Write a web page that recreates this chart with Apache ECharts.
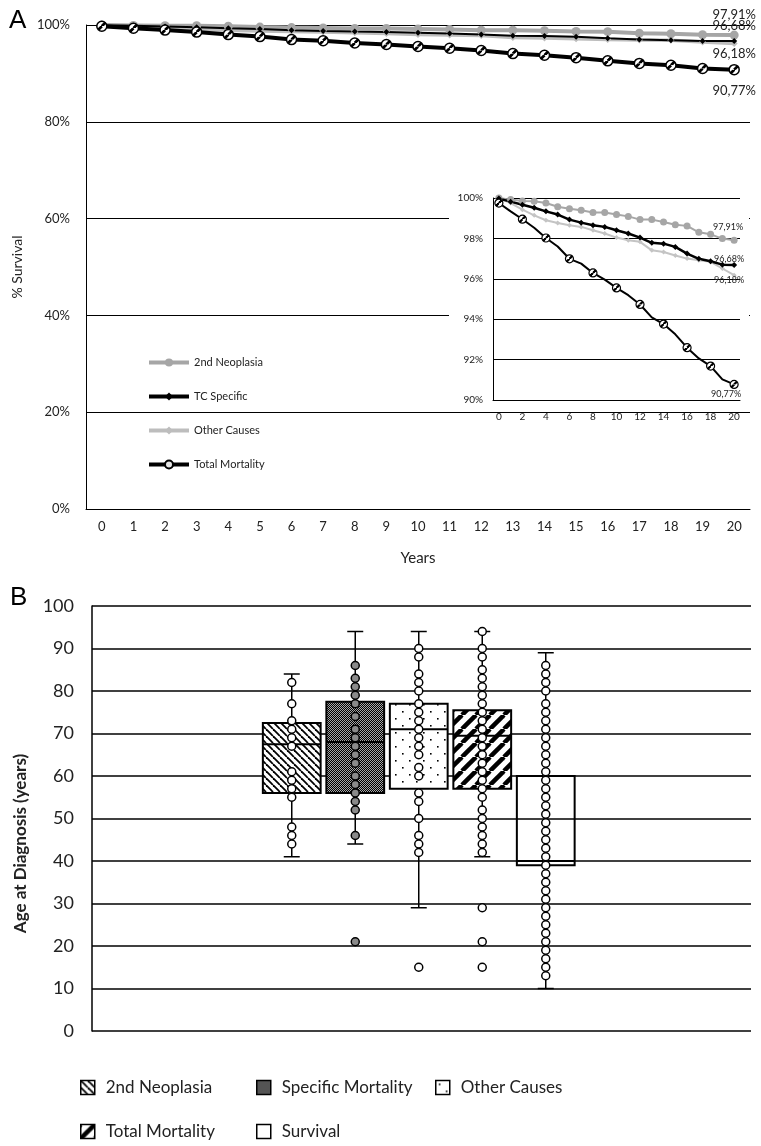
<!DOCTYPE html>
<html>
<head>
<meta charset="utf-8">
<script src="https://cdn.jsdelivr.net/npm/echarts@6/dist/echarts.min.js"></script>
<style>
body{margin:0;background:#fff;}
#chartA{position:absolute;left:0;top:0;width:761px;height:575px;}
#chartB{position:absolute;left:0;top:575px;width:761px;height:571px;}
</style>
</head>
<body>
<div id="chartA"></div>
<div id="chartB"></div>
<script>
// panel A : survival curves
var years = ['0','1','2','3','4','5','6','7','8','9','10','11','12','13','14','15','16','17','18','19','20'];
var neoplasia2nd = [100, 99.92, 99.85, 99.84, 99.75, 99.57, 99.47, 99.39, 99.28, 99.28, 99.18, 99.09, 98.93, 98.93, 98.81, 98.68, 98.62, 98.30, 98.20, 97.99, 97.91];
var tcSpecific = [99.97, 99.82, 99.67, 99.52, 99.34, 99.18, 98.93, 98.78, 98.65, 98.57, 98.40, 98.24, 98.04, 97.78, 97.74, 97.58, 97.25, 96.99, 96.87, 96.70, 96.68];
var otherCauses = [100, 99.75, 99.42, 99.14, 98.90, 98.76, 98.65, 98.57, 98.40, 98.24, 98.04, 97.91, 97.83, 97.41, 97.33, 97.15, 97.00, 96.92, 96.84, 96.51, 96.18];
var totalMortality = [99.75, 99.34, 98.95, 98.53, 98.02, 97.60, 96.99, 96.75, 96.29, 95.96, 95.55, 95.19, 94.73, 94.09, 93.76, 93.25, 92.59, 92.06, 91.68, 91.02, 90.77];

// panel B : age at diagnosis
var groups = ['2nd Neoplasia', 'Specific Mortality', 'Other Causes', 'Total Mortality', 'Survival'];
var boxMin = [41, 44, 29, 41, 10];
var boxQ1 = [56, 56, 57, 57, 39];
var boxMedian = [67.5, 68, 71, 69.5, 40];
var boxQ3 = [72.5, 77.5, 77, 75.5, 60];
var boxMax = [84, 94, 94, 94, 89];
var agesNeoplasia = [82, 77, 73, 71, 69, 67, 61, 59, 57, 55, 48, 46, 44];
var agesSpecific = [86, 83, 81, 79, 77, 74, 71, 69, 67, 65, 63, 60, 58, 56, 54, 52, 46, 21];
var agesOther = [90, 88, 84, 82, 80, 77, 75, 73, 71, 69, 67, 65, 62, 60, 56, 54, 50, 46, 44, 42, 15];
var agesTotal = [94, 90, 88, 85, 83, 81, 79, 77, 75, 73, 71, 69, 67, 65, 63, 61, 59, 57, 55, 52, 50, 48, 46, 44, 42, 29, 21, 15];
var agesSurvival = [86, 84, 82, 80, 77, 75, 73, 71, 69, 67, 65, 63, 61, 59, 57, 55, 53, 51, 49, 47, 45, 43, 41, 39, 37, 35, 33, 31, 29, 27, 25, 23, 21, 19, 17, 15, 13];

var FONT = 'Lato';
var TXT = '#222';

function makePattern(size, draw, scale){
	var c = document.createElement('canvas');
	c.width = size; c.height = size;
	var ctx = c.getContext('2d');
	draw(ctx, size);
	var p = {image: c, repeat: 'repeat'};
	if(scale){ p.scaleX = scale; p.scaleY = scale; }
	return p;
}

// "/" stripes, one through the origin of the tile
function slashes(width, bg){
	return function(ctx, s){
		ctx.fillStyle = bg; ctx.fillRect(0, 0, s, s);
		ctx.strokeStyle = '#000'; ctx.lineWidth = width;
		for(var k = 0; k < 3; k++){
			ctx.beginPath(); ctx.moveTo(k*s - s, s); ctx.lineTo(k*s, 0); ctx.stroke();
		}
	};
}
function backslashes(width){
	return function(ctx, s){
		ctx.fillStyle = '#fff'; ctx.fillRect(0, 0, s, s);
		ctx.strokeStyle = '#000'; ctx.lineWidth = width;
		for(var k = -1; k < 2; k++){
			ctx.beginPath(); ctx.moveTo(k*s, 0); ctx.lineTo(k*s + s, s); ctx.stroke();
		}
	};
}

// symbols are drawn in a -1..1 box, so a 20px tile scaled by 0.1 spans one diameter
var slashDot = makePattern(20, slashes(5.5, '#fff'), 0.1);

var hatchFill = makePattern(7, backslashes(1.8));
var checkFill = makePattern(2, function(ctx){
	ctx.fillStyle = '#a8a8a8'; ctx.fillRect(0, 0, 2, 2);
	ctx.fillStyle = '#000'; ctx.fillRect(0, 0, 1, 1); ctx.fillRect(1, 1, 1, 1);
});
var dotFill = makePattern(14, function(ctx){
	ctx.fillStyle = '#fff'; ctx.fillRect(0, 0, 14, 14);
	ctx.fillStyle = '#000'; ctx.fillRect(3, 3, 1.6, 1.6); ctx.fillRect(10, 10, 1.6, 1.6);
});
var stripeFill = makePattern(14, slashes(4.5, '#fff'));
var boxFills = [hatchFill, checkFill, dotFill, stripeFill, 'rgba(0,0,0,0)'];

function pct(v){ return v.toFixed(2).replace('.', ',') + '%'; }

function endLabel(values, offset, size){
	return values.map(function(v, i){
		if(i < values.length - 1) return v;
		return {value: v, label: {show: true, position: 'inside', offset: offset,
			formatter: function(p){ return pct(p.value); },
			fontSize: size, color: TXT, fontFamily: FONT}};
	});
}

var chartA = echarts.init(document.getElementById('chartA'));
chartA.setOption({
	animation: false,
	title: {text: 'A', left: 4, top: 3, textStyle: {fontFamily: 'Liberation Sans', fontWeight: 'normal', fontSize: 26, color: '#000'}},
	legend: {
		orient: 'vertical', left: 147, top: 357, padding: 0, itemWidth: 40, itemHeight: 10, itemGap: 23,
		textStyle: {fontFamily: FONT, fontSize: 11, color: TXT},
		selectedMode: false,
		data: [
			{name: '2nd Neoplasia', lineStyle: {width: 4}},
			{name: 'TC Specific', lineStyle: {width: 4}},
			{name: 'Other Causes', lineStyle: {width: 4}},
			{name: 'Total Mortality', lineStyle: {width: 4}}
		]
	},
	graphic: [{type: 'rect', z: 1, shape: {x: 449, y: 185, width: 300, height: 224}, style: {fill: '#fff'}}],
	grid: [
		{left: 86, right: 11, top: 25, bottom: 66},
		{left: 493, right: 21, top: 198, bottom: 175}
	],
	xAxis: [
		{type: 'category', gridIndex: 0, data: years, boundaryGap: true,
			axisLine: {lineStyle: {color: '#000', width: 1}}, axisTick: {show: false},
			axisLabel: {fontFamily: FONT, fontSize: 13, color: TXT, margin: 11, interval: 0},
			name: 'Years', nameLocation: 'middle', nameGap: 42,
			nameTextStyle: {fontFamily: FONT, fontSize: 15, color: TXT}},
		{type: 'category', gridIndex: 1, data: years, boundaryGap: true, z: 3,
			axisLine: {lineStyle: {color: '#000', width: 1}}, axisTick: {show: false},
			axisLabel: {fontFamily: FONT, fontSize: 10, color: TXT, margin: 12, interval: 1}}
	],
	yAxis: [
		{type: 'value', gridIndex: 0, min: 0, max: 100, interval: 20,
			axisLine: {show: true, lineStyle: {color: '#000', width: 1}}, axisTick: {show: false},
			axisLabel: {formatter: '{value}%', fontFamily: FONT, fontSize: 13, color: TXT, margin: 16},
			splitLine: {lineStyle: {color: '#000', width: 1}},
			name: '% Survival', nameLocation: 'middle', nameGap: 62,
			nameTextStyle: {fontFamily: FONT, fontSize: 14, color: TXT}},
		{type: 'value', gridIndex: 1, min: 90, max: 100, interval: 2, z: 3,
			axisLine: {show: true, lineStyle: {color: '#000', width: 1}}, axisTick: {show: false},
			axisLabel: {formatter: '{value}%', fontFamily: FONT, fontSize: 10, color: TXT, margin: 10},
			splitLine: {lineStyle: {color: '#000', width: 1}}}
	],
	series: [
		{name: 'Other Causes', type: 'line', xAxisIndex: 0, yAxisIndex: 0, data: endLabel(otherCauses, [0, 10], 13),
			symbol: 'diamond', symbolSize: 7, lineStyle: {color: '#bdbdbd', width: 3.5}, itemStyle: {color: '#bdbdbd'}},
		{name: '2nd Neoplasia', type: 'line', xAxisIndex: 0, yAxisIndex: 0, data: endLabel(neoplasia2nd, [0, -20], 13),
			symbol: 'circle', symbolSize: 9, lineStyle: {color: '#a6a6a6', width: 4}, itemStyle: {color: '#a6a6a6'}},
		{name: 'TC Specific', type: 'line', xAxisIndex: 0, yAxisIndex: 0, data: endLabel(tcSpecific, [0, -15], 13),
			symbol: 'diamond', symbolSize: 6, lineStyle: {color: '#000', width: 2}, itemStyle: {color: '#000'}},
		{name: 'Total Mortality', type: 'line', xAxisIndex: 0, yAxisIndex: 0, data: endLabel(totalMortality, [0, 21], 13),
			symbol: 'circle', symbolSize: 10, lineStyle: {color: '#000', width: 4},
			itemStyle: {color: slashDot, borderColor: '#000', borderWidth: 1.5}},

		{name: 'Other Causes', type: 'line', xAxisIndex: 1, yAxisIndex: 1, z: 4, data: endLabel(otherCauses, [-5, 5], 9),
			symbol: 'diamond', symbolSize: 5, lineStyle: {color: '#c4c4c4', width: 2}, itemStyle: {color: '#c4c4c4'}},
		{name: '2nd Neoplasia', type: 'line', xAxisIndex: 1, yAxisIndex: 1, z: 4, data: endLabel(neoplasia2nd, [-6, -13], 9),
			symbol: 'circle', symbolSize: 7, lineStyle: {color: '#a6a6a6', width: 2}, itemStyle: {color: '#a6a6a6'}},
		{name: 'TC Specific', type: 'line', xAxisIndex: 1, yAxisIndex: 1, z: 4, data: endLabel(tcSpecific, [-5, -6], 9),
			symbol: 'diamond', symbolSize: 6, lineStyle: {color: '#000', width: 2.5}, itemStyle: {color: '#000'}},
		{name: 'Total Mortality', type: 'line', xAxisIndex: 1, yAxisIndex: 1, z: 4, data: endLabel(totalMortality, [-8, 10], 9),
			symbol: 'circle', symbolSize: 8, lineStyle: {color: '#000', width: 2},
			itemStyle: {color: slashDot, borderColor: '#000', borderWidth: 1.2}}
	]
});

// box drawn with short whisker caps
function boxRenderer(fill){
	return function(params, api){
		var x = api.value(0);
		var pMin = api.coord([x, api.value(1)]);
		var pQ1 = api.coord([x, api.value(2)]);
		var pMed = api.coord([x, api.value(3)]);
		var pQ3 = api.coord([x, api.value(4)]);
		var pMax = api.coord([x, api.value(5)]);
		var half = api.size([1, 0])[0] * 0.455;
		var cx = pMin[0], cap = 8;
		var ln = {stroke: '#000', lineWidth: 1.5};
		return {type: 'group', children: [
			{type: 'line', shape: {x1: cx, y1: pMax[1], x2: cx, y2: pQ3[1]}, style: ln},
			{type: 'line', shape: {x1: cx, y1: pQ1[1], x2: cx, y2: pMin[1]}, style: ln},
			{type: 'line', shape: {x1: cx - cap, y1: pMax[1], x2: cx + cap, y2: pMax[1]}, style: ln},
			{type: 'line', shape: {x1: cx - cap, y1: pMin[1], x2: cx + cap, y2: pMin[1]}, style: ln},
			{type: 'rect', shape: {x: cx - half, y: pQ3[1], width: half * 2, height: pQ1[1] - pQ3[1]},
				style: {fill: fill, stroke: '#000', lineWidth: 2}},
			{type: 'line', shape: {x1: cx - half, y1: pMed[1], x2: cx + half, y2: pMed[1]}, style: {stroke: '#000', lineWidth: 2}}
		]};
	};
}

var dotLists = [agesNeoplasia, agesSpecific, agesOther, agesTotal, agesSurvival];
var seriesB = [];
for(var i = 0; i < groups.length; i++){
	seriesB.push({
		name: groups[i], type: 'custom', xAxisIndex: 1, yAxisIndex: 1, z: 2,
		renderItem: boxRenderer(boxFills[i]),
		encode: {x: 0, y: [1, 2, 3, 4, 5]},
		data: [[i, boxMin[i], boxQ1[i], boxMedian[i], boxQ3[i], boxMax[i]]]
	});
}
for(var j = 0; j < groups.length; j++){
	seriesB.push({
		name: 'ages ' + groups[j], type: 'scatter', xAxisIndex: 1, yAxisIndex: 1, z: 3,
		symbol: 'circle', symbolSize: 8,
		itemStyle: {color: j === 1 ? '#8a8a8a' : '#fff', borderColor: '#000', borderWidth: 1.5, opacity: 1},
		data: dotLists[j].map(function(v){ return [j, v]; })
	});
}

// one legend per entry so the two rows line up in columns
var legendLeft = [80, 256, 435, 80, 256];
var legendTop = [504, 504, 504, 548, 548];
var legendFill = [hatchFill, checkFill, dotFill, stripeFill, '#fff'];
var legendsB = groups.map(function(g, k){
	return {orient: 'horizontal', left: legendLeft[k], top: legendTop[k], padding: 0,
		itemWidth: 14, itemHeight: 14, selectedMode: false,
		textStyle: {fontFamily: FONT, fontSize: 17, color: TXT, padding: [0, 0, 0, 6]},
		data: [{name: g, icon: 'rect', itemStyle: {color: legendFill[k], borderColor: '#000', borderWidth: 1.5}}]};
});

var chartB = echarts.init(document.getElementById('chartB'));
chartB.setOption({
	animation: false,
	title: {text: 'B', left: 5, top: 5, textStyle: {fontFamily: 'Liberation Sans', fontWeight: 'normal', fontSize: 26, color: '#000'}},
	legend: legendsB,
	grid: [
		{left: 92, right: 10, top: 31, bottom: 115},
		{left: 260, right: 183.5, top: 31, bottom: 115}
	],
	xAxis: [
		{type: 'value', gridIndex: 0, min: 0, max: 1, show: false},
		{type: 'category', gridIndex: 1, data: groups, show: false}
	],
	yAxis: [
		{type: 'value', gridIndex: 0, min: 0, max: 100, interval: 10,
			axisLine: {show: true, lineStyle: {color: '#000', width: 1.5}}, axisTick: {show: false},
			axisLabel: {fontFamily: FONT, fontSize: 18, color: TXT, margin: 18},
			splitLine: {lineStyle: {color: '#000', width: 1.5}},
			name: 'Age at Diagnosis (years)', nameLocation: 'middle', nameGap: 63,
			nameTextStyle: {fontFamily: FONT, fontSize: 17, fontWeight: 'bold', color: TXT, padding: [0, 50, 0, 0]}},
		{type: 'value', gridIndex: 1, min: 0, max: 100, show: false}
	],
	series: seriesB
});
</script>
</body>
</html>
